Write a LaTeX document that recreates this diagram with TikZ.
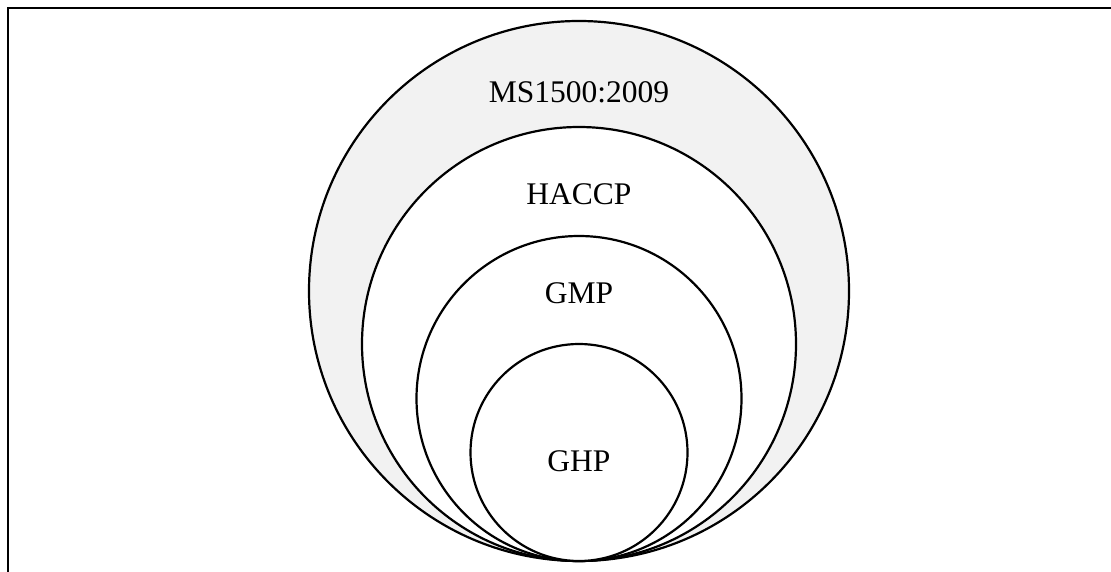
\documentclass[tikz,border=0pt]{standalone}
\usepackage{fontspec}
\setmainfont{Liberation Serif}

\begin{document}
\begin{tikzpicture}[x=1pt, y=-1pt,
    every node/.style={inner sep=0pt},
    ring/.style={circle, draw, line width=2.2pt},
    tag/.style={font=\fontsize{31.5}{36}\selectfont}]

% Page size and common center line
\useasboundingbox (0,0) rectangle (1111,572);
\def\cx{579}
\def\base{561}

% Frame (top and left edges)
\coordinate (frameTL) at (8,8);
\coordinate (frameTR) at (1111,8);
\coordinate (frameBL) at (8,572);
\draw[line width=2.8pt] (frameBL) -- (frameTL) -- (frameTR);

% Nested circles, all touching at the bottom
\foreach \name/\r/\col in {ms/270/black!5, haccp/217/white, gmp/162.5/white, ghp/108.5/white} {
    \node[ring, fill=\col, minimum size=2*\r pt] (\name) at (\cx, {\base-\r}) {};
}

% Labels
\node[tag] (msText) at (\cx, 92) {MS1500:2009};
\node[tag] (haccpText) at (\cx, 194) {HACCP};
\node[tag] (gmpText) at (\cx, 293) {GMP};
\node[tag] (ghpText) at (\cx, 461) {GHP};

\end{tikzpicture}
\end{document}
